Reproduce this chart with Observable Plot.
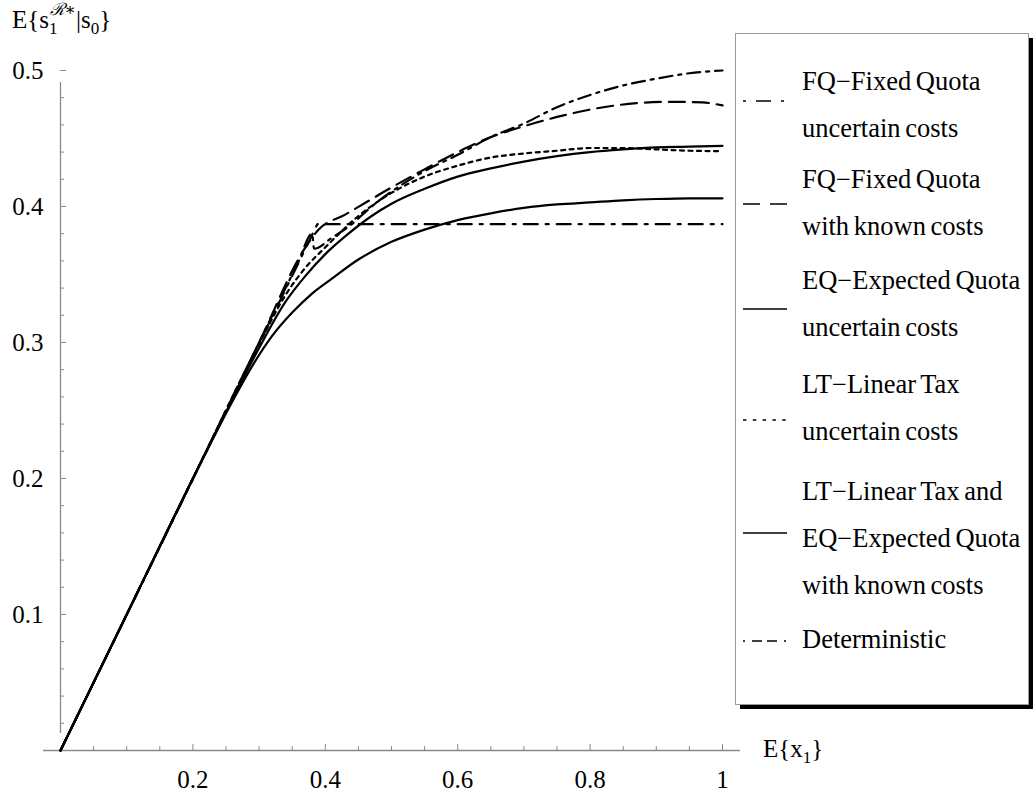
<!DOCTYPE html>
<html><head><meta charset="utf-8">
<script src="https://cdn.jsdelivr.net/npm/d3@7"></script>
<script src="https://cdn.jsdelivr.net/npm/@observablehq/plot@0.6"></script>
<style>
html,body{margin:0;padding:0;background:#fff;}
#chart{position:relative;width:1035px;height:796px;overflow:hidden;}
svg{overflow:visible;}
</style></head><body><div id="chart"></div>
<script>
// ---- data ----
const fqUncX = [0, 0.1, 0.2, 0.3, 0.36, 0.38, 0.383, 0.41, 0.44, 0.47, 0.5, 0.55, 0.6, 0.65, 0.7, 0.75, 0.8, 0.85, 0.9, 0.95, 1];
const fqUncY = [0, 0.1, 0.2, 0.3, 0.36, 0.38, 0.369, 0.377, 0.387, 0.4, 0.411, 0.426, 0.438, 0.451, 0.461, 0.473, 0.482, 0.489, 0.494, 0.498, 0.5];

const fqKnownX = [0, 0.1, 0.2, 0.3, 0.37, 0.39, 0.43, 0.465, 0.5, 0.541, 0.6, 0.65, 0.7, 0.76, 0.82, 0.87, 0.92, 0.97, 1];
const fqKnownY = [0, 0.1, 0.2, 0.3, 0.37, 0.383, 0.394, 0.404, 0.414, 0.425, 0.44, 0.451, 0.459, 0.467, 0.473, 0.476, 0.477, 0.4765, 0.4743];

const eqUncX = [0, 0.1, 0.2, 0.23, 0.26, 0.29, 0.32, 0.35, 0.38, 0.41, 0.45, 0.5, 0.55, 0.6, 0.65, 0.7, 0.75, 0.8, 0.85, 0.9, 0.95, 1];
const eqUncY = [0, 0.1, 0.2, 0.229, 0.257, 0.283, 0.305, 0.322, 0.336, 0.347, 0.361, 0.374, 0.383, 0.39, 0.395, 0.399, 0.4015, 0.403, 0.4045, 0.4055, 0.406, 0.406];

const ltUncX = [0, 0.1, 0.2, 0.3, 0.34, 0.37, 0.4, 0.45, 0.5, 0.55, 0.6, 0.65, 0.7, 0.75, 0.8, 0.85, 0.9, 0.95, 1];
const ltUncY = [0, 0.1, 0.2, 0.299, 0.335, 0.355, 0.37, 0.393, 0.41, 0.422, 0.43, 0.436, 0.439, 0.441, 0.443, 0.443, 0.442, 0.441, 0.4407];

const ltEqKnownX = [0, 0.1, 0.2, 0.25, 0.3, 0.34, 0.37, 0.4, 0.43, 0.47, 0.5, 0.55, 0.6, 0.65, 0.7, 0.75, 0.8, 0.85, 0.9, 0.95, 1];
const ltEqKnownY = [0, 0.1, 0.2, 0.249, 0.296, 0.33, 0.349, 0.365, 0.378, 0.393, 0.402, 0.413, 0.422, 0.428, 0.433, 0.437, 0.44, 0.442, 0.4435, 0.444, 0.4446];

const detX = [0, 0.388, 0.5, 0.6, 0.7, 0.8, 0.9, 1];
const detY = [0, 0.387, 0.387, 0.387, 0.387, 0.387, 0.387, 0.387];

const xTickLabels = [0.2, 0.4, 0.6, 0.8, 1];
const xMinorTicks = [0.05, 0.1, 0.15, 0.25, 0.3, 0.35, 0.45, 0.5, 0.55, 0.65, 0.7, 0.75, 0.85, 0.9, 0.95];
const yTickLabels = [0.1, 0.2, 0.3, 0.4, 0.5];
const yMinorTicks = [0.02, 0.04, 0.06, 0.08, 0.12, 0.14, 0.16, 0.18, 0.22, 0.24, 0.26, 0.28, 0.32, 0.34, 0.36, 0.38, 0.42, 0.44, 0.46, 0.48];

const legendLabels = [
  ["FQ\u2212Fixed Quota", "uncertain costs"],
  ["FQ\u2212Fixed Quota", "with known costs"],
  ["EQ\u2212Expected Quota", "uncertain costs"],
  ["LT\u2212Linear Tax", "uncertain costs"],
  ["LT\u2212Linear Tax and", "EQ\u2212Expected Quota", "with known costs"],
  ["Deterministic"]
];

// ---- styles / layout ----
const FONT = "'Liberation Serif', 'DejaVu Serif', serif";
const toRows = (xs, ys) => xs.map((x, i) => ({x, y: ys[i]}));
const series = [
  {rows: toRows(fqUncX, fqUncY), dash: "13,6,3,6", legendDash: "3,10,15,10,3", curve: "monotone-x"},
  {rows: toRows(fqKnownX, fqKnownY), dash: "16,8", legendDash: "17,10,17", curve: "monotone-x"},
  {rows: toRows(eqUncX, eqUncY), dash: null, legendDash: null, curve: "monotone-x"},
  {rows: toRows(ltUncX, ltUncY), dash: "4,4.5", legendDash: "3.5,6.3", curve: "monotone-x"},
  {rows: toRows(ltEqKnownX, ltEqKnownY), dash: null, legendDash: null, curve: "monotone-x"},
  {rows: toRows(detX, detY), dash: "14,8,3,8", legendDash: "2,7,10,5,10,7,2", curve: "linear"}
];
const AX = "#8a8a8a";

const chart = Plot.plot({
  width: 1035, height: 796,
  marginLeft: 60, marginRight: 313, marginTop: 70, marginBottom: 46,
  x: {domain: [0, 1], axis: null},
  y: {domain: [0, 0.5], axis: null},
  style: {fontFamily: FONT, background: "white", color: "black", overflow: "visible"},
  marks: [
    Plot.ruleY([0], {x1: 0, x2: 1, insetLeft: -17, insetRight: -18, stroke: AX, strokeWidth: 1.3}),
    Plot.ruleX([0], {y1: 0, y2: 0.5, insetTop: -17, insetBottom: -12, stroke: AX, strokeWidth: 1.3}),
    Plot.ruleX(xTickLabels, {x: d => d, y1: 0, y2: 0, insetTop: -6, stroke: AX, strokeWidth: 1}),
    Plot.ruleX(xMinorTicks, {x: d => d, y1: 0, y2: 0, insetTop: -4, stroke: AX, strokeWidth: 1}),
    Plot.ruleY(yTickLabels, {y: d => d, x1: 0, x2: 0, insetRight: -6, stroke: AX, strokeWidth: 1}),
    Plot.ruleY(yMinorTicks, {y: d => d, x1: 0, x2: 0, insetRight: -4, stroke: AX, strokeWidth: 1}),
    Plot.text(xTickLabels, {x: d => d, y: 0, dy: 29, text: d => String(d), fontSize: 25, fill: "black"}),
    Plot.text(yTickLabels, {x: 0, y: d => d, dx: -17, text: d => String(d), textAnchor: "end", fontSize: 25, fill: "black"}),
    ...series.map(s => Plot.line(s.rows, {x: "x", y: "y", stroke: "black", strokeWidth: 2.2, curve: s.curve, strokeDasharray: s.dash || undefined}))
  ]
});
document.getElementById("chart").appendChild(chart);

const svg = d3.select(chart);
// y-axis label
const yl = svg.append("text").attr("x", 12).attr("y", 28).attr("text-anchor", "start").attr("font-family", FONT).attr("font-size", 25).attr("fill", "black");
yl.append("tspan").text("E{s");
yl.append("tspan").attr("font-size", 17).attr("dy", 6).text("1");
yl.append("tspan").attr("font-size", 17).attr("dx", -8).attr("dy", -19).attr("font-style", "italic").text("\u211B\u2217");
yl.append("tspan").attr("font-size", 25).attr("dy", 13).text("|s");
yl.append("tspan").attr("font-size", 17).attr("dy", 6).text("0");
yl.append("tspan").attr("font-size", 25).attr("dy", -6).text("}");

// x-axis label
const xl = svg.append("text").attr("x", 763).attr("y", 757).attr("text-anchor", "start").attr("font-family", FONT).attr("font-size", 25).attr("fill", "black");
xl.append("tspan").text("E{x");
xl.append("tspan").attr("font-size", 17).attr("dy", 6).text("1");
xl.append("tspan").attr("font-size", 25).attr("dy", -6).text("}");

// legend
const lg = svg.append("g").attr("text-anchor", "start");
lg.append("rect").attr("x", 740).attr("y", 38).attr("width", 293).attr("height", 671).attr("fill", "black");
lg.append("rect").attr("x", 735.5).attr("y", 33.5).attr("width", 293).attr("height", 671).attr("fill", "white").attr("stroke", "#9a9a9a").attr("stroke-width", 1);
const entryTop = [90, 188, 289, 393, 500, 648];
const symbolY = [101, 204, 309, 420, 533, 641];
legendLabels.forEach((lines, i) => {
  lg.append("line").attr("x1", 743).attr("x2", 787).attr("y1", symbolY[i]).attr("y2", symbolY[i])
    .attr("stroke", "black").attr("stroke-width", 1.3)
    .attr("stroke-dasharray", series[i].legendDash);
  lines.forEach((t, j) => {
    lg.append("text").attr("x", 802).attr("y", entryTop[i] + j * 47).attr("text-anchor", "start")
      .attr("font-family", FONT).attr("font-size", 26.5).attr("word-spacing", -2).attr("fill", "black").text(t);
  });
});
</script></body></html>
